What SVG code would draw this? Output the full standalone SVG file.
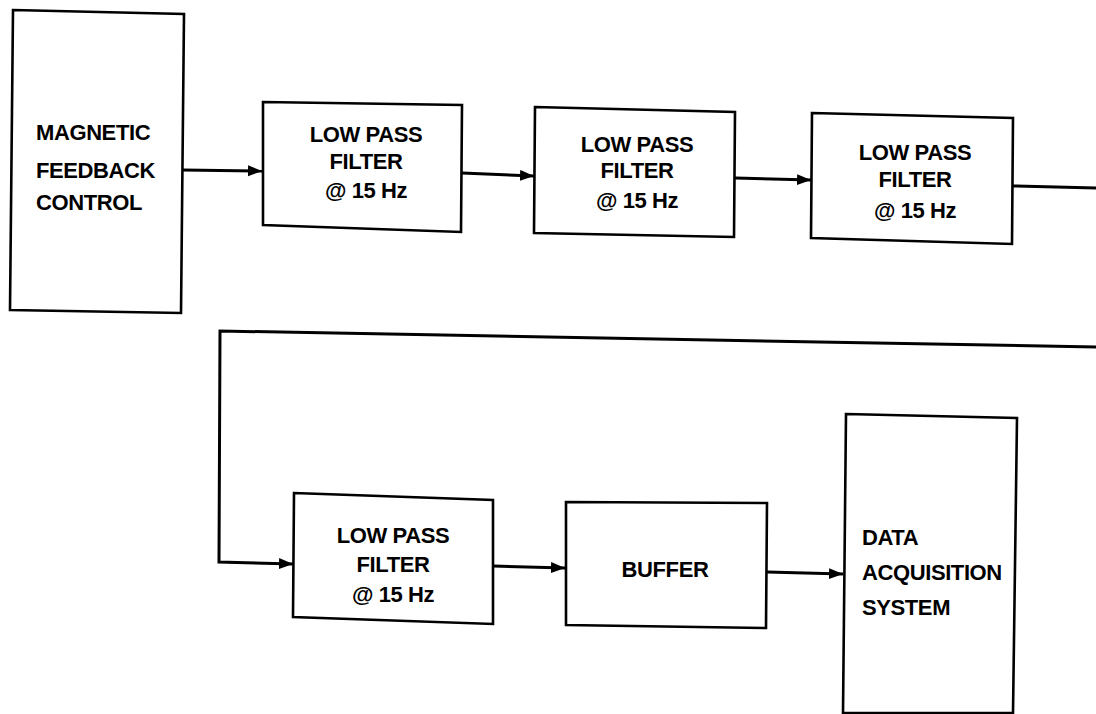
<svg xmlns="http://www.w3.org/2000/svg" width="1096" height="714" viewBox="0 0 1096 714">
<style>
.box{fill:#fff;stroke:#000;stroke-width:2.6;stroke-linejoin:miter}
.t{font-family:"Liberation Sans",Arial,Helvetica,sans-serif;font-weight:bold;font-size:22px;letter-spacing:-0.4px;fill:#000}
.c{text-anchor:middle}
.ln{fill:none;stroke:#000;stroke-width:3}
</style>
<defs>
<marker id="arr" markerUnits="userSpaceOnUse" markerWidth="16" markerHeight="12" refX="14" refY="5.5" orient="auto">
<path d="M0,0 L14,5.5 L0,11 Z" fill="#000"/>
</marker>
</defs>
<rect width="1096" height="714" fill="#fff"/>
<g id="connectors">
<path class="ln" d="M183,170 L262,171" marker-end="url(#arr)"/>
<path class="ln" d="M462,173 L534,176" marker-end="url(#arr)"/>
<path class="ln" d="M735,178 L811,180" marker-end="url(#arr)"/>
<path class="ln" d="M1013,186 L1096,188"/>
<path class="ln" d="M1096,347 L220,331 L219,562 L293,564" marker-end="url(#arr)"/>
<path class="ln" d="M493,566 L565,568" marker-end="url(#arr)"/>
<path class="ln" d="M767,572 L843,574" marker-end="url(#arr)"/>
</g>
<g id="magnetic">
<polygon class="box" points="13,10 184,14 181,313 10,310"/>
<text class="t" x="36" y="140">MAGNETIC</text>
<text class="t" x="36" y="178">FEEDBACK</text>
<text class="t" x="36" y="210">CONTROL</text>
</g>
<g id="lpf1">
<polygon class="box" points="263,102 462,105 461,232 263,225"/>
<text class="t c" x="366" y="142">LOW PASS</text>
<text class="t c" x="366" y="169">FILTER</text>
<text class="t c" x="366" y="198">@ 15 Hz</text>
</g>
<g id="lpf2">
<polygon class="box" points="535,107 735,112 734,237 534,233"/>
<text class="t c" x="637" y="152">LOW PASS</text>
<text class="t c" x="637" y="178">FILTER</text>
<text class="t c" x="637" y="208">@ 15 Hz</text>
</g>
<g id="lpf3">
<polygon class="box" points="812,113 1013,118 1012,244 811,238"/>
<text class="t c" x="915" y="160">LOW PASS</text>
<text class="t c" x="915" y="187">FILTER</text>
<text class="t c" x="915" y="218">@ 15 Hz</text>
</g>
<g id="lpf4">
<polygon class="box" points="294,493 493,500 493,624 293,617"/>
<text class="t c" x="393" y="543">LOW PASS</text>
<text class="t c" x="393" y="572">FILTER</text>
<text class="t c" x="393" y="602">@ 15 Hz</text>
</g>
<g id="buffer">
<polygon class="box" points="566,502 767,503 766,628 566,625"/>
<text class="t c" x="665" y="577">BUFFER</text>
</g>
<g id="das">
<polygon class="box" points="846,414 1017,418 1013,713 843,713"/>
<text class="t" x="862" y="545">DATA</text>
<text class="t" x="862" y="580">ACQUISITION</text>
<text class="t" x="862" y="615">SYSTEM</text>
</g>
</svg>
